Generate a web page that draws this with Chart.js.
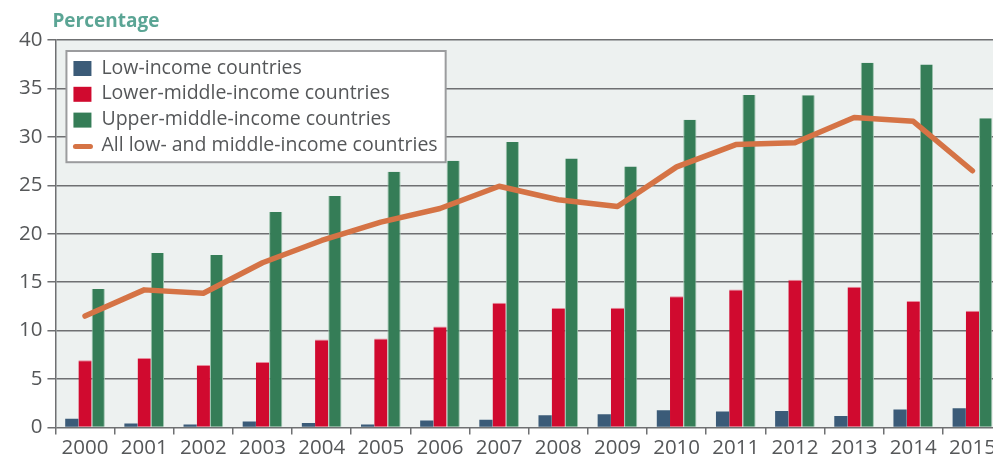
<!DOCTYPE html>
<html>
<head>
<meta charset="utf-8">
<script src="https://cdn.jsdelivr.net/npm/chart.js@4.4.1/dist/chart.umd.min.js"></script>
<style>
  html, body { margin: 0; padding: 0; background: #fff; overflow: hidden; }
  #wrap { width: 1010px; height: 457px; }
</style>
</head>
<body>
<div id="wrap"><canvas id="chart" width="1010" height="457"></canvas></div>
<script>
// Share of income group, 2000–2015 (percentage)
const years = ['2000','2001','2002','2003','2004','2005','2006','2007',
               '2008','2009','2010','2011','2012','2013','2014','2015'];
const lowIncome = [0.9, 0.4, 0.3, 0.6, 0.45, 0.3, 0.7, 0.8,
                   1.25, 1.35, 1.77, 1.63, 1.7, 1.18, 1.84, 1.97];
const lowerMiddle = [6.93, 7.17, 6.44, 6.75, 9.07, 9.18, 10.42, 12.88,
                     12.33, 12.36, 13.54, 14.23, 15.24, 14.51, 13.06, 12.05];
const upperMiddle = [14.3, 18.0, 17.8, 22.23, 23.9, 26.39, 27.53, 29.47,
                     27.77, 26.94, 31.76, 34.32, 34.29, 37.64, 37.47, 31.93];
const allLowMiddle = [11.5, 14.2, 13.85, 17.0, 19.3, 21.2, 22.6, 24.9,
                      23.5, 22.8, 26.9, 29.2, 29.4, 32.0, 31.6, 26.5];
const yTicks = [0, 5, 10, 15, 20, 25, 30, 35, 40];

const TEXT = '#555759';
const GRID = '#6f7072';
const FONT = '"Open Sans", sans-serif';

// light fill behind the plot area
const plotBackground = {
  id: 'plotBackground',
  beforeDraw(chart) {
    const { ctx, chartArea: a } = chart;
    ctx.save();
    ctx.fillStyle = '#edf1f0';
    ctx.fillRect(a.left, a.top, a.right - a.left, a.bottom - a.top);
    ctx.restore();
  }
};

// boxed legend inside the plot + unit label above the axis
const boxedLegend = {
  id: 'boxedLegend',
  afterDraw(chart) {
    const { ctx, chartArea: a } = chart;
    ctx.save();
    ctx.font = 'bold 19px ' + FONT;
    ctx.fillStyle = '#5ba595';
    ctx.textBaseline = 'middle';
    ctx.textAlign = 'left';
    ctx.fillText('Percentage', a.left - 3, 22);

    const items = chart.data.datasets;
    ctx.font = '19.5px ' + FONT;
    let maxW = 0;
    items.forEach(d => { maxW = Math.max(maxW, ctx.measureText(d.label).width); });
    const x0 = a.left + 11, y0 = a.top + 11;
    const rowH = 25.8;
    const w = 7 + 18 + 10 + maxW + 8;
    const h = 6 + rowH * items.length + 2;
    ctx.fillStyle = '#fff';
    ctx.fillRect(x0, y0, w, h);
    ctx.strokeStyle = '#9b9c9e';
    ctx.lineWidth = 2;
    ctx.strokeRect(x0, y0, w, h);

    items.forEach((d, i) => {
      const cy = y0 + 17 + i * rowH;
      if (d.type === 'line') {
        ctx.strokeStyle = d.borderColor;
        ctx.lineWidth = 5;
        ctx.lineCap = 'round';
        ctx.beginPath();
        ctx.moveTo(x0 + 9, cy + 1);
        ctx.lineTo(x0 + 24, cy + 1);
        ctx.stroke();
      } else {
        ctx.fillStyle = d.backgroundColor;
        ctx.fillRect(x0 + 7, cy - 7, 18, 15);
      }
      ctx.fillStyle = TEXT;
      ctx.fillText(d.label, x0 + 35, cy);
    });
    ctx.restore();
  }
};

new Chart(document.getElementById('chart'), {
  type: 'bar',
  data: {
    labels: years,
    datasets: [
      { label: 'Low-income countries', data: lowIncome, backgroundColor: '#3b5b78',
        borderWidth: 0, order: 1 },
      { label: 'Lower-middle-income countries', data: lowerMiddle, backgroundColor: '#d00a2f',
        borderColor: '#e88a9b', borderWidth: { left: 0, right: 0, top: 1, bottom: 0 }, order: 1 },
      { label: 'Upper-middle-income countries', data: upperMiddle, backgroundColor: '#357d57',
        borderColor: '#9cc3ad', borderWidth: { left: 1, right: 1, top: 0, bottom: 0 }, order: 1 },
      { label: 'All low- and middle-income countries', data: allLowMiddle, type: 'line',
        borderColor: '#d57345', backgroundColor: '#d57345', borderWidth: 5.5,
        borderCapStyle: 'round', borderJoinStyle: 'round', pointRadius: 0, tension: 0, order: 0 }
    ]
  },
  options: {
    responsive: false,
    animation: false,
    layout: { padding: { left: 14, right: 8, top: 40, bottom: -4 } },
    datasets: { bar: { categoryPercentage: 0.67, barPercentage: 1.0 } },
    plugins: { legend: { display: false }, tooltip: { enabled: false } },
    scales: {
      x: {
        offset: true,
        grid: { offset: true, drawOnChartArea: false, drawTicks: true, tickLength: 7,
                color: GRID, lineWidth: 1.5 },
        border: { display: false },
        ticks: { color: TEXT, font: { family: FONT, size: 20.5 }, padding: 1, maxRotation: 0, autoSkip: false }
      },
      y: {
        min: 0, max: 40,
        afterBuildTicks(axis) { axis.ticks = yTicks.map(v => ({ value: v })); },
        grid: { color: GRID, lineWidth: 1.5, tickLength: 8, drawTicks: true },
        border: { display: true, color: GRID, width: 1.5 },
        ticks: { color: TEXT, font: { family: FONT, size: 20.5 }, padding: 5 }
      }
    }
  },
  plugins: [plotBackground, boxedLegend]
});
</script>
</body>
</html>
